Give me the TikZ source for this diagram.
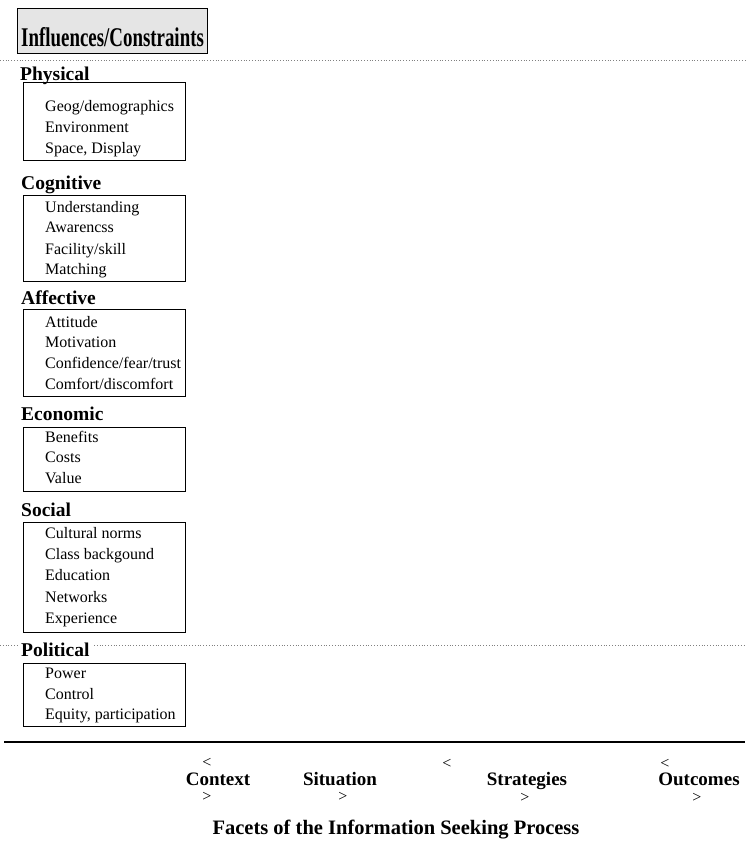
\documentclass[tikz,border=0pt]{standalone}
\usepackage{fontspec}
\setmainfont{Liberation Serif}
\usepackage{graphicx}
\usepackage{tikz}

\begin{document}
\begin{tikzpicture}[x=1pt, y=-1pt,
  every node/.style={inner sep=0pt},
  ttl/.style={font=\fontsize{27}{27}\selectfont\bfseries, anchor=base west},
  hdr/.style={font=\fontsize{19.5}{20}\selectfont\bfseries, anchor=base west},
  itm/.style={font=\fontsize{16}{16}\selectfont, anchor=base west},
  facet/.style={font=\fontsize{19}{19}\selectfont\bfseries, anchor=base},
  chev/.style={font=\fontsize{16}{16}\selectfont, anchor=base},
  grp/.style={draw, line width=0.9pt},
  sep/.style={gray, dotted, line width=0.8pt}]
  \useasboundingbox (0,0) rectangle (745,854);

  \draw[grp, fill=gray!20] (17,8) rectangle (207,53);
  \node[ttl] (infl) at (21,46) {\scalebox{0.7}[1]{Influences/Constraints}};
  \draw[sep] (0,60) -- (745,60);

  \node[hdr] (phys) at (20,80) {Physical};
  \draw[grp] (23,82) rectangle (185,160);
  \node[itm] (geog) at (45,111) {Geog/demographics};
  \node[itm] (envi) at (45,132) {Environment};
  \node[itm] (spac) at (45,153) {Space, Display};

  \node[hdr] (cogn) at (21,189) {Cognitive};
  \draw[grp] (23,195) rectangle (185,281);
  \node[itm] (unde) at (45,212) {Understanding};
  \node[itm] (awar) at (45,232) {Awarencss};
  \node[itm] (faci) at (45,254) {Facility/skill};
  \node[itm] (matc) at (45,274) {Matching};

  \node[hdr] (affe) at (21,304) {Affective};
  \draw[grp] (23,309) rectangle (185,396);
  \node[itm] (atti) at (45,327) {Attitude};
  \node[itm] (moti) at (45,347) {Motivation};
  \node[itm] (conf) at (45,368) {Confidence/fear/trust};
  \node[itm] (comf) at (45,389) {Comfort/discomfort};

  \node[hdr] (econ) at (21,420) {Economic};
  \draw[grp] (23,427) rectangle (185,491);
  \node[itm] (bene) at (45,442) {Benefits};
  \node[itm] (cost) at (45,462) {Costs};
  \node[itm] (valu) at (45,483) {Value};

  \node[hdr] (soci) at (21,516) {Social};
  \draw[grp] (23,522) rectangle (185,632);
  \node[itm] (cult) at (45,538) {Cultural norms};
  \node[itm] (clas) at (45,559) {Class backgound};
  \node[itm] (educ) at (45,580) {Education};
  \node[itm] (netw) at (45,602) {Networks};
  \node[itm] (expe) at (45,623) {Experience};

  \draw[sep] (0,645) -- (18,645);
  \draw[sep] (94,645) -- (745,645);
  \node[hdr] (poli) at (21,656) {Political};
  \draw[grp] (23,663) rectangle (185,726);
  \node[itm] (powe) at (45,678) {Power};
  \node[itm] (cont) at (45,699) {Control};
  \node[itm] (equi) at (45,719) {Equity, participation};

  \draw[line width=2.6pt] (4,742) -- (745,742);

  \node[chev] (ctxl) at (207,767) {<};
  \node[facet] (ctx) at (218,785) {Context};
  \node[chev] (ctxr) at (207,801) {>};
  \node[facet] (sit) at (340,785) {Situation};
  \node[chev] (sitr) at (343,801) {>};
  \node[chev] (strl) at (447,768) {<};
  \node[facet] (str) at (527,785) {Strategies};
  \node[chev] (strr) at (525,802) {>};
  \node[chev] (outl) at (665,768) {<};
  \node[facet] (out) at (699,785) {Outcomes};
  \node[chev] (outr) at (697,802) {>};

  \node[facet, font=\fontsize{20.5}{21}\selectfont\bfseries] (facets) at (396,834) {Facets of the Information Seeking Process};
\end{tikzpicture}
\end{document}
